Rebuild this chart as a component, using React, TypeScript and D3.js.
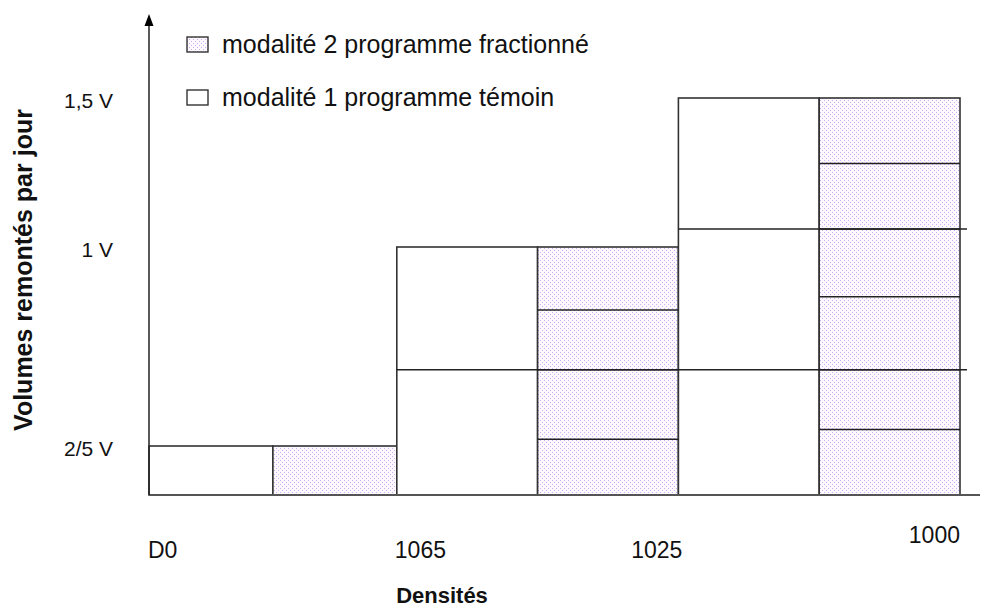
import React from "react";
import * as d3 from "d3";

// données
const barGroupe = ["D0", "D0", "1065", "1065", "1025", "1025"];
const barModalite = [1, 2, 1, 2, 1, 2];
const barVolume = [0.4, 0.4, 1, 1, 1.5, 1.5];
const barLargeur = [0.88, 0.88, 1, 1, 1, 1];
const barDivisions = [[], [], [0.63], [0.42, 0.63, 0.81], [1.06], [0.45, 0.63, 0.85, 1.06, 1.28]];

const yTicks = [0.4, 1, 1.5];
const yTickLabels = ["2/5 V", "1 V", "1,5 V"];

const xLabels = ["D0", "1065", "1025", "1000"];
const xLabelEdges = [0, 2, 4, 6];

const legendLabels = ["modalité 2 programme fractionné", "modalité 1 programme témoin"];
const legendModalite = [2, 1];

const W = 1001;
const H = 612;
const font = "'Liberation Sans', Arial, sans-serif";

export default function App() {
  const edges = Array.from(d3.cumsum([0, ...barLargeur]));
  const x = d3.scaleLinear().domain([0, d3.sum(barLargeur)]).range([149, 960]);
  // échelle non proportionnelle comme dans le dessin d'origine
  const y = d3.scaleLinear().domain([0, 0.4, 1, 1.5]).range([495, 446, 247, 98]);

  const x0 = x(0);
  const xEnd = 980;
  const anchors = ["start", "start", "end", "end"];
  const labelDx = [-1, -2, 4, 0];
  const labelDy = [0, 0, 0, -15];

  return (
    <svg width={W} height={H} style={{ position: "absolute", left: 0, top: 0, background: "#fff" }}>
      <defs>
        <pattern id="dots" width={4} height={4} patternUnits="userSpaceOnUse">
          <rect width={4} height={4} fill="#fcfaff" />
          <rect x={0} y={0} width={1} height={1} fill="#cfa8f6" />
          <rect x={2} y={2} width={1} height={1} fill="#cfa8f6" />
        </pattern>
      </defs>

      {/* barres */}
      {barVolume.map((v, i) => (
        <rect
          key={"b" + i}
          x={x(edges[i])}
          y={y(v)}
          width={x(edges[i + 1]) - x(edges[i])}
          height={y(0) - y(v)}
          fill={barModalite[i] === 2 ? "url(#dots)" : "#fff"}
          stroke="#333"
          strokeWidth={1.6}
        />
      ))}

      {/* divisions */}
      {barDivisions.map((divs, i) =>
        divs.map((d, j) => (
          <line
            key={"d" + i + "-" + j}
            x1={x(edges[i])}
            x2={barModalite[i] === 1 ? x(d3.sum(barLargeur)) + 7 : x(edges[i + 1])}
            y1={y(d)}
            y2={y(d)}
            stroke="#222"
            strokeWidth={1.5}
          />
        ))
      )}

      {/* axes */}
      <line x1={x0} x2={xEnd} y1={y(0)} y2={y(0)} stroke="#555" strokeWidth={2} />
      <line x1={x0} x2={x0} y1={y(0)} y2={24} stroke="#222" strokeWidth={1.5} />
      <path d={`M${x0},14 L${x0 - 4.5},26 L${x0 + 4.5},26 Z`} fill="#000" />

      {/* graduations */}
      {yTicks.map((t, i) => (
        <text key={"yt" + i} x={113} y={y(t) + 10} textAnchor="end" fontFamily={font} fontSize={21} fill="#111">
          {yTickLabels[i]}
        </text>
      ))}
      {xLabels.map((l, i) => (
        <text
          key={"xl" + i}
          x={x(edges[xLabelEdges[i]]) + labelDx[i]}
          y={558 + labelDy[i]}
          textAnchor={anchors[i]}
          fontFamily={font}
          fontSize={23}
          fill="#111"
        >
          {l}
        </text>
      ))}

      {/* titres */}
      <text x={442} y={603} textAnchor="middle" fontFamily={font} fontSize={22} fontWeight="bold" fill="#111">
        Densités
      </text>
      <text
        transform={`translate(32,270) rotate(-90)`}
        textAnchor="middle"
        fontFamily={font}
        fontSize={25}
        fontWeight="bold"
        fill="#111"
      >
        Volumes remontés par jour
      </text>

      {/* légende */}
      {legendLabels.map((l, i) => (
        <g key={"lg" + i} transform={`translate(187,${37 + i * 53})`}>
          <rect
            width={21}
            height={15}
            fill={legendModalite[i] === 2 ? "url(#dots)" : "#fff"}
            stroke="#333"
            strokeWidth={1.4}
          />
          <text x={35} y={16} fontFamily={font} fontSize={25} fill="#111">
            {l}
          </text>
        </g>
      ))}
    </svg>
  );
}
